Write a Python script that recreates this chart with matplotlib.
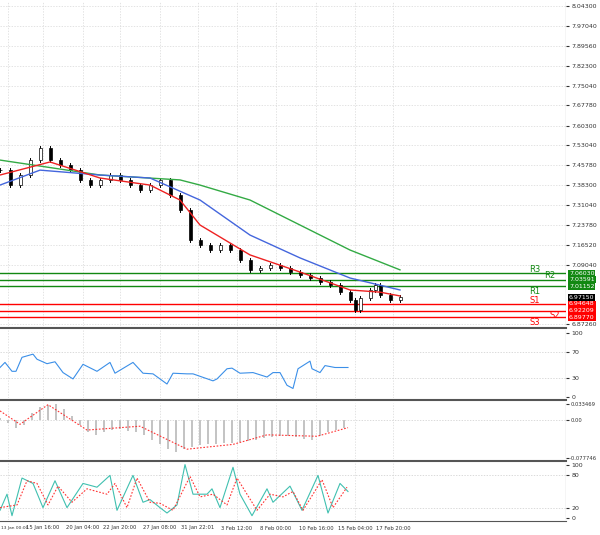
import numpy as np
import matplotlib
matplotlib.use("Agg")
import matplotlib.pyplot as plt

# ---- data ----
bar_x = [0,10,20,30,40,50,60,70,80,90,100,110,120,130,140,150,160,170,180,190,200,210,220,230,240,250,260,270,280,290,300,310,320,330,340,350,355,360,370,375,380,390,400]
close = [7.439,7.384,7.421,7.476,7.520,7.476,7.458,7.439,7.403,7.384,7.403,7.421,7.403,7.384,7.366,7.384,7.403,7.347,7.292,7.182,7.163,7.145,7.163,7.145,7.108,7.072,7.079,7.090,7.079,7.064,7.053,7.042,7.027,7.016,6.990,6.961,6.924,6.968,6.998,7.016,6.980,6.961,6.972]
ma_fast_x = [0,50,100,150,180,200,250,300,350,380,400]
ma_fast = [7.421,7.469,7.410,7.384,7.329,7.237,7.127,7.064,6.998,6.990,6.976]
ma_mid_x = [0,40,100,150,200,250,300,350,400]
ma_mid = [7.384,7.439,7.421,7.410,7.329,7.200,7.116,7.042,6.998]
ma_slow_x = [0,100,180,200,250,300,350,400]
ma_slow = [7.476,7.421,7.403,7.384,7.329,7.237,7.145,7.072]
levels = {"R3":7.06030,"R2":7.03591,"R1":7.01152,"S1":6.94648,"S2":6.92209,"S3":6.89770}
current = 6.97150
price_ticks = [8.04300,7.97040,7.89560,7.82300,7.75040,7.67780,7.60300,7.53040,7.45780,7.38300,7.31040,7.23780,7.16520,7.09040,6.87260]

rsi_x = [0,5,12,16,22,33,37,47,55,63,73,83,97,110,115,133,143,153,167,173,187,193,213,217,227,232,240,253,267,273,280,287,293,298,310,312,320,325,335,337,348]
rsi = [46,54,40,40,62,67,59,52,55,38,28,51,40,54,37,54,37,36,20,37,36,36,25,28,44,45,37,38,31,38,38,18,13,44,56,44,38,49,46,46,46]
macd_x = list(range(0, 352, 8))
macd_hist = [0.005,-0.005,-0.015,-0.010,0.015,0.028,0.033,0.035,0.025,0.010,-0.010,-0.025,-0.030,-0.025,-0.020,-0.018,-0.022,-0.025,-0.030,-0.040,-0.050,-0.060,-0.065,-0.060,-0.055,-0.052,-0.050,-0.050,-0.048,-0.047,-0.045,-0.042,-0.040,-0.037,-0.035,-0.033,-0.033,-0.035,-0.038,-0.040,-0.033,-0.025,-0.020,-0.015]
sig_x = [0,20,48,87,140,187,233,267,317,348]
macd_sig = [0.020,-0.008,0.033,-0.020,-0.012,-0.060,-0.050,-0.030,-0.033,-0.015]
st_x = [0,7,12,22,33,43,55,67,83,97,110,117,133,143,150,160,167,177,185,193,207,212,220,233,240,252,267,273,290,302,318,328,340,348]
st_main = [15,45,5,75,65,20,70,20,65,58,80,15,80,30,35,20,10,25,100,45,45,55,20,95,45,5,55,30,60,15,80,10,65,50]
ss_x = [0,17,27,37,48,58,72,87,107,115,127,137,150,160,173,190,200,213,227,237,257,270,283,293,303,322,333,347]
st_sig = [20,25,70,65,25,60,30,55,45,65,20,75,30,28,15,78,40,45,25,75,15,45,40,50,15,72,20,58]

xtick_pos = [8,43,83,120,160,198,237,276,316,355,393]
xtick_lab = ["13 Jan 00:00","15 Jan 16:00","20 Jan 04:00","22 Jan 20:00","27 Jan 08:00","31 Jan 22:01","3 Feb 12:00","8 Feb 00:00","10 Feb 16:00","15 Feb 04:00","17 Feb 20:00"]

W, H = 600, 535
fig = plt.figure(figsize=(6, 5.35), dpi=100)
fig.patch.set_facecolor("white")
R = 566 / W
def ax_px(top, bot):
    a = fig.add_axes([0, 1 - bot / H, R, (bot - top) / H])
    a.set_xlim(0, 566)
    a.set_facecolor("white")
    for s in a.spines.values():
        s.set_visible(False)
    a.tick_params(axis="x", bottom=False, labelbottom=False)
    a.yaxis.tick_right()
    a.tick_params(axis="y", length=2, labelsize=4.5, pad=2, colors="#333333")
    for xp in xtick_pos:
        a.axvline(xp, color="#d8d8d8", lw=0.5, ls=(0, (2, 2)), zorder=0)
    a.axvline(566, color="#555555", lw=0.8)
    return a

# price
ax = ax_px(2, 326)
pp = 0.00368
ax.set_ylim(8.043 - 320 * pp, 8.043 + 4 * pp)
ax.set_yticks(price_ticks)
ax.set_yticklabels([f"{t:.5f}" for t in price_ticks])
for t in price_ticks:
    ax.axhline(t, color="#d8d8d8", lw=0.5, ls=(0, (2, 2)), zorder=0)
prev = close[0]
for x, c in zip(bar_x, close):
    o = prev
    lo, hi = min(o, c), max(o, c)
    ax.plot([x, x], [lo - 0.008, hi + 0.008], color="black", lw=0.7, zorder=3)
    ax.bar(x, max(hi - lo, 0.002), bottom=lo, width=3, color="white" if c >= o else "black",
           edgecolor="black", lw=0.5, zorder=4)
    prev = c
ax.plot(ma_slow_x, ma_slow, color="#33aa44", lw=1, zorder=5)
ax.plot(ma_mid_x, ma_mid, color="#4466dd", lw=1, zorder=5)
ax.plot(ma_fast_x, ma_fast, color="#ee2222", lw=1, zorder=5)
lab_x = {"R3": 535, "R2": 550, "R1": 535, "S1": 535, "S2": 555, "S3": 535}
for k, v in levels.items():
    col = "#118811" if k[0] == "R" else "#ff0000"
    ax.axhline(v, color=col, lw=1, zorder=2)
    ax.text(lab_x[k], v - 0.002, k, color=col, fontsize=6,
            va="top" if k in ("R1", "S3", "S2") else "bottom", ha="center")
    ax.text(569, v, f"{v:.5f}", fontsize=4.5, color="white", va="center", ha="left", clip_on=False,
            bbox=dict(boxstyle="square,pad=0.15", fc=col, ec="none"))
ax.text(569, current, f"{current:.5f}", fontsize=4.5, color="white", va="center", ha="left", clip_on=False,
        bbox=dict(boxstyle="square,pad=0.15", fc="black", ec="none"))

# separators
for y in (328, 400, 461, 521):
    fig.add_artist(plt.Line2D([0, R], [1 - y / H] * 2, color="#555555", lw=1.5 if y != 521 else 0.8))

# RSI
a1 = ax_px(330, 398)
a1.set_ylim(-2, 105)
a1.set_yticks([0, 30, 70, 100])
for t in (30, 70):
    a1.axhline(t, color="#cccccc", lw=0.5, ls=(0, (2, 2)))
a1.plot(rsi_x, rsi, color="#3b8fe8", lw=0.8)

# MACD
a2 = ax_px(403, 459)
a2.set_ylim(-0.0805, 0.0365)
a2.set_yticks([0.033469, 0.0, -0.077746])
a2.set_yticklabels(["0.033469", "0.00", "-0.077746"])
a2.tick_params(axis="y", labelsize=3.8, pad=1)
a2.axhline(0, color="#cccccc", lw=0.5, ls=(0, (2, 2)))
a2.bar(macd_x, macd_hist, width=2, color="#c4c4c4")
a2.plot(sig_x, macd_sig, color="#ff3333", lw=0.8, ls=(0, (1.5, 1.5)))

# Stochastic
a3 = ax_px(463, 520)
a3.set_ylim(-3, 103)
a3.set_yticks([0, 20, 80, 100])
for t in (20, 80):
    a3.axhline(t, color="#cccccc", lw=0.5, ls=(0, (2, 2)))
a3.plot(st_x, st_main, color="#40c0b0", lw=0.8)
a3.plot(ss_x, st_sig, color="#ff3333", lw=0.8, ls=(0, (1.5, 1.5)))
for i, (xp, lb) in enumerate(zip(xtick_pos, xtick_lab)):
    if i == 0:
        fig.text(1 / W, 1 - 528 / H, lb, fontsize=3.2, ha="left", va="center", color="#333333")
    else:
        fig.text(xp / W, 1 - 528 / H, lb, fontsize=3.8, ha="center", va="center", color="#333333")

fig.savefig("out.png", dpi=100, facecolor="white")
